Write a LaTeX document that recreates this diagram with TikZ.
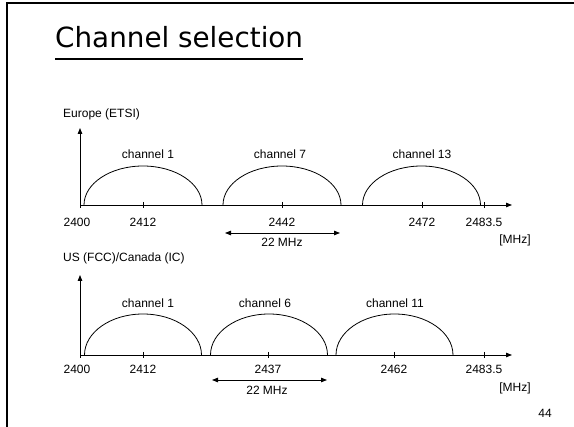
\documentclass[tikz,border=0pt]{standalone}
\usepackage{fontspec}
\setmainfont{Liberation Sans}
\newfontfamily\titlefont{DejaVu Sans}
\usetikzlibrary{arrows.meta,calc}
\tikzset{lbl/.style={inner sep=0pt,font=\fontsize{12}{14}\selectfont},
  axisline/.style={-{Triangle[length=6pt,width=4.5pt]},line width=0.8pt},
  bandarc/.style={line width=0.8pt},
  tickmark/.style={line width=0.8pt},
  spanarr/.style={{Triangle[length=6pt,width=4.5pt]}-{Triangle[length=6pt,width=4.5pt]},line width=0.8pt},
  frame/.style={line width=1.5pt}}

\begin{document}
\begin{tikzpicture}[x=1pt,y=-1pt]
\useasboundingbox (0,0) rectangle (574,427);
% slide frame and title
\coordinate (fb) at (7,427); \coordinate (fc) at (7,3); \coordinate (fr) at (574,3);
\draw[frame] (fb) -- (fc) -- (fr);
\node[anchor=base west,inner sep=0pt,font=\titlefont\fontsize{27.8}{30}\selectfont] (title) at (55,48) {Channel selection};
\draw[line width=1.4pt] ($(title.base west)+(0,11)$) -- ($(title.base east)+(0,11)$);

% Europe (ETSI)
\node[lbl,anchor=west] (eu) at (63,114) {Europe (ETSI)};
\coordinate (eb) at (80,208); \coordinate (ey) at (80,128);
\coordinate (eo) at (80,205); \coordinate (ex) at (512,205);
\draw[axisline] (eb) -- (ey);
\draw[axisline] (eo) -- (ex);
\node[lbl] (e0) at (77,222) {2400};
\foreach \x/\t [count=\i] in {143/2412,282/2442,422/2472,484/2483.5} {
  \draw[tickmark] (\x,202) -- (\x,208);
  \node[lbl] (e\i) at (\x,222) {\t};
}
\foreach \c/\n/\lx in {143/1/148,282/7/280,421.5/13/422} {
  \draw[bandarc] ({\c-59},205) arc[start angle=180,end angle=0,x radius=59pt,y radius=39pt];
  \node[lbl] (ech\n) at (\lx,154) {channel \n};
}
\coordinate (esl) at (225,233); \coordinate (esr) at (340,233);
\draw[spanarr] (esl) -- (esr);
\node[lbl] (ew) at (282,242) {22 MHz};
\node[lbl] (eu) at (515,240) {[MHz]};

% US (FCC)/Canada (IC)
\node[lbl,anchor=west] (us) at (63,258) {US (FCC)/Canada (IC)};
\coordinate (ub) at (80,358); \coordinate (uy) at (80,275);
\coordinate (uo) at (80,355); \coordinate (ux) at (512,355);
\draw[axisline] (ub) -- (uy);
\draw[axisline] (uo) -- (ux);
\node[lbl] (u0) at (77,369) {2400};
\foreach \x/\t [count=\i] in {143/2412,268/2437,394/2462,484/2483.5} {
  \draw[tickmark] (\x,352) -- (\x,358);
  \node[lbl] (u\i) at (\x,369) {\t};
}
\foreach \c/\n/\lx in {143/1/148,269/6/265,394.5/11/395} {
  \draw[bandarc] ({\c-58.5},355) arc[start angle=180,end angle=0,x radius=58.5pt,y radius=41pt];
  \node[lbl] (uch\n) at (\lx,303) {channel \n};
}
\coordinate (usl) at (212,380); \coordinate (usr) at (327,380);
\draw[spanarr] (usl) -- (usr);
\node[lbl] (uw) at (267,390) {22 MHz};
\node[lbl] (uu) at (515,388) {[MHz]};

\node[lbl] (page) at (545,413) {44};
\end{tikzpicture}
\end{document}
